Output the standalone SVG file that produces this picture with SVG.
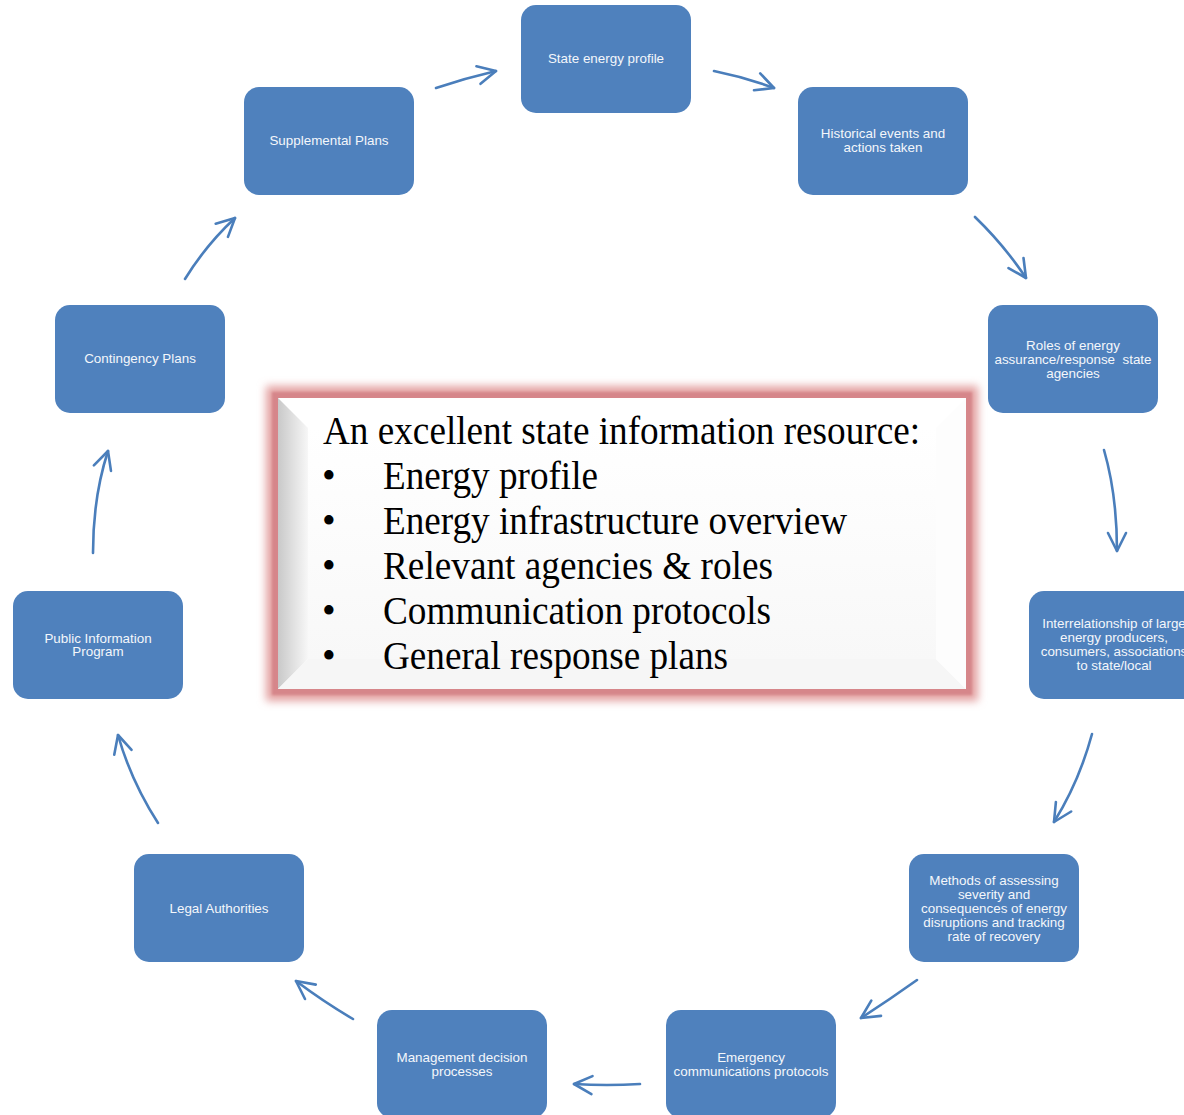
<svg xmlns="http://www.w3.org/2000/svg" width="1184" height="1115" viewBox="0 0 1184 1115">
<defs>
<style>
.node rect{fill:#4f81bd;}
.node text{fill:#f4f7fb;font-family:"Liberation Sans",Arial,sans-serif;font-size:13.4px;text-anchor:middle;}
.conn path{fill:none;stroke:#4a7ebb;stroke-width:2.6;stroke-linecap:round;marker-end:url(#ah);}
.ct{font-family:"Liberation Serif","Times New Roman",serif;font-size:39px;fill:#000;}
</style>
<marker id="ah" markerUnits="userSpaceOnUse" viewBox="-21 -11 23 22" refX="0" refY="0" markerWidth="23" markerHeight="22" orient="auto" overflow="visible">
<path d="M-18,-9 L0,0 L-18,9" fill="none" stroke="#4a7ebb" stroke-width="2.6" stroke-linecap="round" stroke-linejoin="round"/>
</marker>
<filter id="glow" x="-10%" y="-10%" width="120%" height="120%"><feGaussianBlur stdDeviation="4.5"/></filter>
<filter id="soft" x="-5%" y="-5%" width="110%" height="110%"><feGaussianBlur stdDeviation="1.2"/></filter>
<linearGradient id="lg" x1="0" y1="0" x2="1" y2="0"><stop offset="0" stop-color="#c9c9c9"/><stop offset="1" stop-color="#f7f7f7"/></linearGradient>
<linearGradient id="fg" x1="0" y1="0" x2="0" y2="1"><stop offset="0" stop-color="#ffffff"/><stop offset="1" stop-color="#f8f8f8"/></linearGradient>
</defs>
<rect width="1184" height="1115" fill="#ffffff"/>

<g id="center">
<rect x="266" y="386" width="712" height="315" fill="#e3a0a0" filter="url(#glow)"/>
<rect x="272" y="392" width="700" height="303" fill="#d6868a" filter="url(#soft)"/>
<rect x="278" y="398" width="688" height="291" fill="#ffffff"/>
<polygon points="278,398 308,428 308,659 278,689" fill="url(#lg)"/>
<polygon points="278,689 966,689 936,659 308,659" fill="#f6f6f6"/>
<polygon points="966,398 966,689 936,659 936,428" fill="#fdfdfd"/>
<rect x="308" y="428" width="628" height="231" fill="url(#fg)"/>
<text class="ct" x="323" y="444" textLength="597" lengthAdjust="spacingAndGlyphs">An excellent state information resource:</text>
<text class="ct" x="322" y="489">•</text>
<text class="ct" x="383" y="489" textLength="215" lengthAdjust="spacingAndGlyphs">Energy profile</text>
<text class="ct" x="322" y="534">•</text>
<text class="ct" x="383" y="534" textLength="464" lengthAdjust="spacingAndGlyphs">Energy infrastructure overview</text>
<text class="ct" x="322" y="579">•</text>
<text class="ct" x="383" y="579" textLength="390" lengthAdjust="spacingAndGlyphs">Relevant agencies &amp; roles</text>
<text class="ct" x="322" y="624">•</text>
<text class="ct" x="383" y="624" textLength="388" lengthAdjust="spacingAndGlyphs">Communication protocols</text>
<text class="ct" x="322" y="669">•</text>
<text class="ct" x="383" y="669" textLength="345" lengthAdjust="spacingAndGlyphs">General response plans</text>
</g>

<g id="connectors" class="conn">
<path d="M436,88 Q466,78 496,71"/>
<path d="M714,71 Q744,77 774,88"/>
<path d="M975,217 Q1004,245 1026,278"/>
<path d="M1104,450 Q1117,495 1117,551"/>
<path d="M1092,734 Q1079,782 1054,822"/>
<path d="M917,980 Q889,1000 861,1018"/>
<path d="M640,1084 Q607,1086 574,1084"/>
<path d="M353,1019 Q324,1002 296,981"/>
<path d="M158,823 Q131,781 118,735"/>
<path d="M93,553 Q93,497 108,451"/>
<path d="M185,279 Q206,245 235,218"/>
</g>

<g id="n-state" class="node"><rect x="521" y="5" width="170" height="108" rx="15"/><text x="606" y="63">State energy profile</text></g>
<g id="n-historical" class="node"><rect x="798" y="87" width="170" height="108" rx="15"/><text x="883" y="138">Historical events and</text><text x="883" y="152">actions taken</text></g>
<g id="n-roles" class="node"><rect x="988" y="305" width="170" height="108" rx="15"/><text x="1073" y="350">Roles of energy</text><text x="1073" y="364">assurance/response&#160; state</text><text x="1073" y="378">agencies</text></g>
<g id="n-interrel" class="node"><rect x="1029" y="591" width="170" height="108" rx="15"/><text x="1114" y="628">Interrelationship of large</text><text x="1114" y="642">energy producers,</text><text x="1114" y="656">consumers, associations</text><text x="1114" y="670">to state/local</text></g>
<g id="n-methods" class="node"><rect x="909" y="854" width="170" height="108" rx="15"/><text x="994" y="885">Methods of assessing</text><text x="994" y="899">severity and</text><text x="994" y="913">consequences of energy</text><text x="994" y="927">disruptions and tracking</text><text x="994" y="941">rate of recovery</text></g>
<g id="n-emergency" class="node"><rect x="666" y="1010" width="170" height="108" rx="15"/><text x="751" y="1062">Emergency</text><text x="751" y="1076">communications protocols</text></g>
<g id="n-management" class="node"><rect x="377" y="1010" width="170" height="108" rx="15"/><text x="462" y="1062">Management decision</text><text x="462" y="1076">processes</text></g>
<g id="n-legal" class="node"><rect x="134" y="854" width="170" height="108" rx="15"/><text x="219" y="913">Legal Authorities</text></g>
<g id="n-public" class="node"><rect x="13" y="591" width="170" height="108" rx="15"/><text x="98" y="643">Public Information</text><text x="98" y="656">Program</text></g>
<g id="n-contingency" class="node"><rect x="55" y="305" width="170" height="108" rx="15"/><text x="140" y="363">Contingency Plans</text></g>
<g id="n-supplemental" class="node"><rect x="244" y="87" width="170" height="108" rx="15"/><text x="329" y="145">Supplemental Plans</text></g>
</svg>
